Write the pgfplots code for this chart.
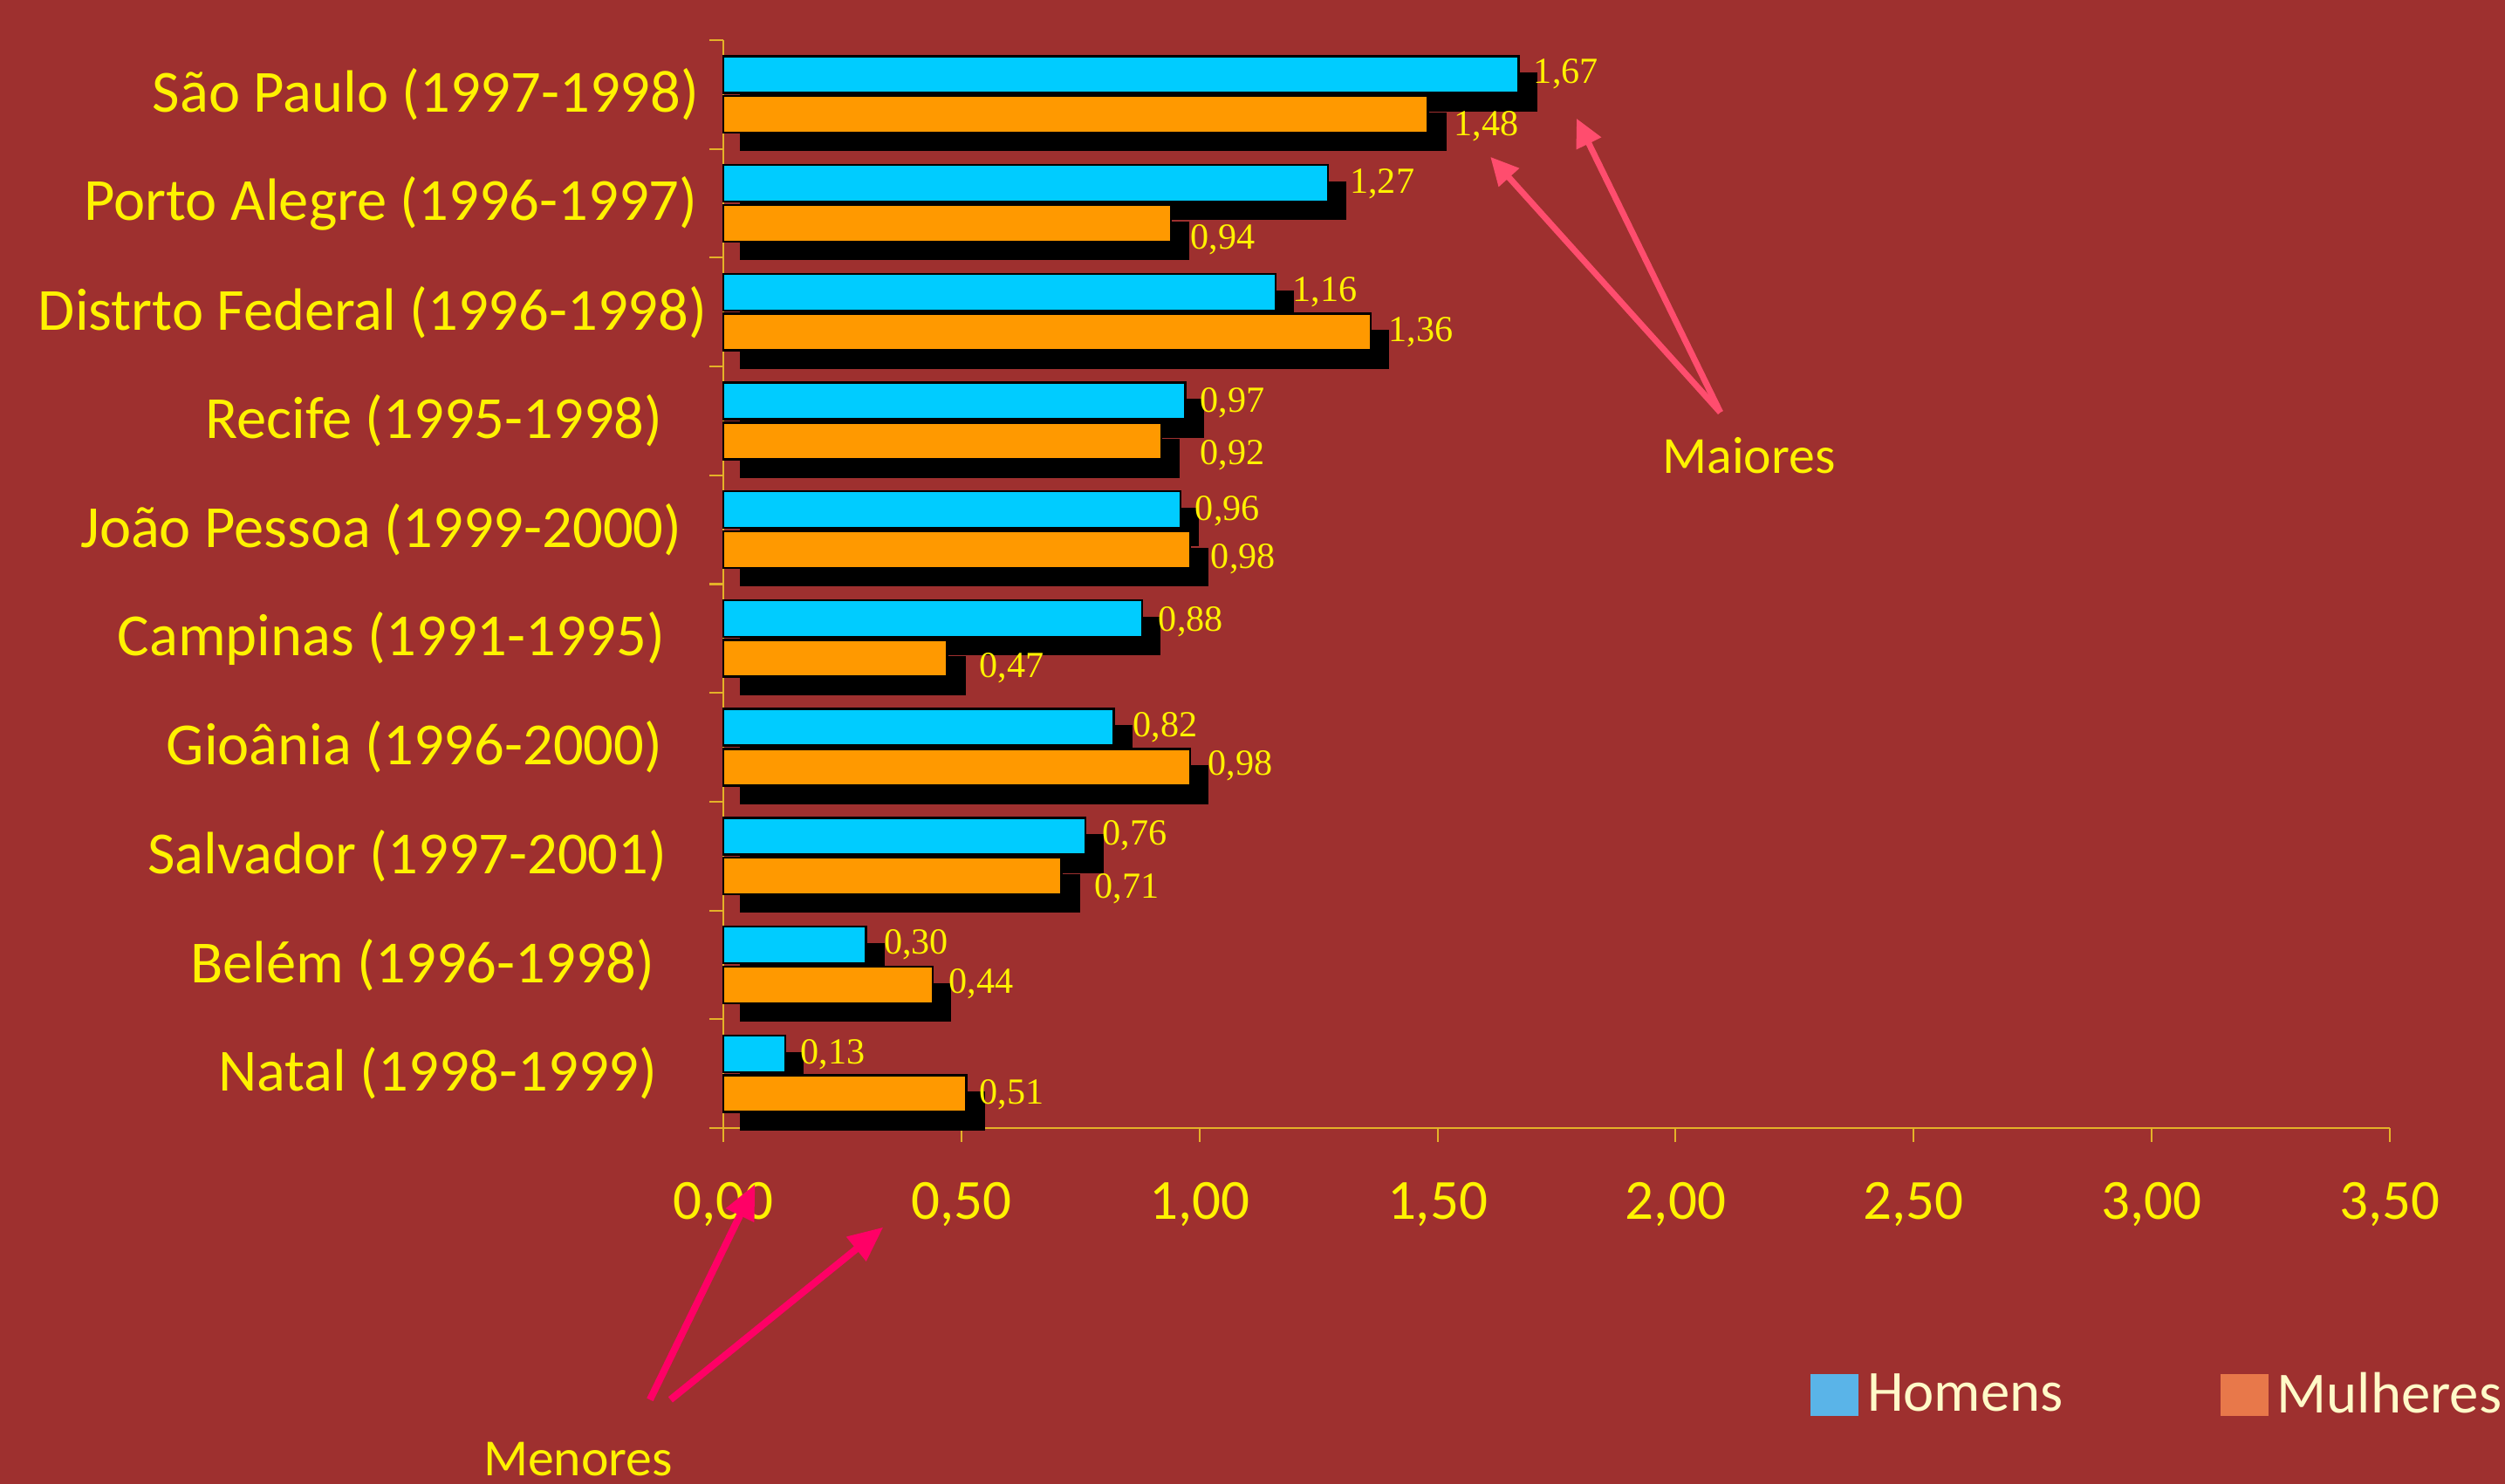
\documentclass[border=0pt]{standalone}
\usepackage{fontspec}
\setmainfont{Carlito}
\newfontfamily\numfont{Liberation Serif}
\usepackage{pgfplots}
\usepackage{pgfplotstable}
\pgfplotsset{compat=1.18}
\usetikzlibrary{arrows.meta}
\definecolor{bg}{RGB}{158,48,47}
\definecolor{barblue}{RGB}{0,204,255}
\definecolor{barorange}{RGB}{255,153,0}
\definecolor{legblue}{RGB}{90,180,232}
\definecolor{legorange}{RGB}{232,120,74}
\definecolor{cream}{RGB}{255,250,200}
\definecolor{axisc}{RGB}{228,178,40}
\definecolor{arrA}{RGB}{255,77,110}
\definecolor{arrB}{RGB}{255,0,102}

\pgfplotstableread{
x y
1.67 9
1.27 8
1.16 7
0.97 6
0.96 5
0.88 4
0.82 3
0.76 2
0.30 1
0.13 0
}\homens

\pgfplotstableread{
x y
1.48 9
0.94 8
1.36 7
0.92 6
0.98 5
0.47 4
0.98 3
0.71 2
0.44 1
0.51 0
}\mulheres

\pgfplotstableread{
x y label
1.701 9.192 1,67
1.315 8.178 1,27
1.195 7.180 1,16
1.000 6.167 0,97
0.990 5.168 0,96
0.913 4.155 0,88
0.859 3.186 0,82
0.795 2.187 0,76
0.336 1.189 0,30
0.161 0.175 0,13
1.534 8.707 1,48
0.980 7.664 0,94
1.396 6.813 1,36
1.000 5.682 0,92
1.023 4.728 0,98
0.537 3.729 0,47
1.017 2.833 0,98
0.779 1.703 0,71
0.473 0.822 0,44
0.537 -0.192 0,51
}\labels

\begin{document}
\begin{tikzpicture}
\clip (-8.29,-4.08) rectangle (20.42,12.93);
\fill[bg] (-8.29,-4.08) rectangle (20.42,12.93);
\begin{axis}[
  at={(0,0)}, anchor=south west,
  scale only axis, width=19.10cm, height=12.47cm,
  xmin=0, xmax=3.5, ymin=-0.5, ymax=9.5,
  clip=false,
  axis lines*=left,
  axis line style={draw=axisc, line width=0.6pt},
  tick style={draw=axisc, line width=0.6pt},
  major tick length=0.16cm,
  tick align=outside,
  xtick={0,0.5,1,1.5,2,2.5,3,3.5},
  xticklabels={{0,00},{0,50},{1,00},{1,50},{2,00},{2,50},{3,00},{3,50}},
  xticklabel style={font=\fontsize{18.5}{22}\selectfont, text=yellow, inner sep=0pt, anchor=north, yshift=-0.46cm},
  ytick={-0.5,0.5,1.5,2.5,3.5,4.5,5.5,6.5,7.5,8.5,9.5},
  yticklabels={},
  extra y ticks={0,1,2,3,4,5,6,7,8,9},
  extra y tick labels={
    {Natal (1998-1999)\rule{0.57cm}{0pt}},
    {Belém (1996-1998)\rule{0.60cm}{0pt}},
    {Salvador (1997-2001)\rule{0.46cm}{0pt}},
    {Gioânia (1996-2000)\rule{0.51cm}{0pt}},
    {Campinas (1991-1995)\rule{0.48cm}{0pt}},
    {João Pessoa (1999-2000)\rule{0.29cm}{0pt}},
    {Recife (1995-1998)\rule{0.51cm}{0pt}},
    {Distrto Federal (1996-1998)},
    {Porto Alegre (1996-1997)\rule{0.11cm}{0pt}},
    {São Paulo (1997-1998)\rule{0.09cm}{0pt}}},
  extra y tick style={major tick length=0pt},
  yticklabel style={font=\fontsize{19.5}{23}\selectfont, text=yellow, inner sep=0pt, anchor=east, xshift=-0.18cm},
  legend columns=2,
  legend cell align=left,
  legend style={draw=none, fill=none, at={(0.652,-0.245)}, anchor=west,
    font=\fontsize{19}{23}\selectfont, text=cream, inner sep=0pt,
    nodes={inner sep=0.1cm},
    /tikz/every even column/.append style={column sep=1.7cm}},
  legend image code/.code={\fill[#1] (0cm,-0.24cm) rectangle (0.55cm,0.24cm);},
]
% shadows
\addplot[xbar, bar width=0.42cm, bar shift=0.229cm, fill=black, draw=black, line width=0.7pt, xshift=0.2cm, yshift=-0.2cm, forget plot] table[x=x,y=y] {\homens};
\addplot[xbar, bar width=0.42cm, bar shift=-0.229cm, fill=black, draw=black, line width=0.7pt, xshift=0.2cm, yshift=-0.2cm, forget plot] table[x=x,y=y] {\mulheres};
% bars
\addplot[xbar, bar width=0.42cm, bar shift=0.229cm, fill=barblue, draw=black, line width=0.7pt, forget plot] table[x=x,y=y] {\homens};
\addplot[xbar, bar width=0.42cm, bar shift=-0.229cm, fill=barorange, draw=black, line width=0.7pt, forget plot] table[x=x,y=y] {\mulheres};
% value labels
\addplot[draw=none, mark=none, forget plot,
  nodes near coords, point meta=explicit symbolic,
  nodes near coords style={anchor=west, inner sep=0pt, font=\numfont\fontsize{12}{14}\selectfont, text=yellow}]
  table[x=x, y=y, meta=label] {\labels};
% annotations
\draw[line width=2pt, arrA, -{Triangle[length=0.32cm, width=0.3cm]}] (2.094,6.078) -- (1.611,8.427);
\draw[line width=2pt, arrA, -{Triangle[length=0.32cm, width=0.3cm]}] (2.094,6.078) -- (1.792,8.780);
\node[text=yellow, font=\fontsize{17}{20}\selectfont, inner sep=0pt] at (2.154,5.682) {Maiores};
\draw[line width=2.3pt, arrB, -{Triangle[length=0.4cm, width=0.34cm]}] (-0.154,-2.997) -- (0.067,-1.015);
\draw[line width=2.3pt, arrB, -{Triangle[length=0.4cm, width=0.34cm]}] (-0.111,-2.997) -- (0.336,-1.411);
\node[text=yellow, font=\fontsize{17}{20}\selectfont, inner sep=0pt] at (-0.305,-3.54) {Menores};
\addlegendimage{fill=legblue, draw=none}
\addlegendentry{Homens}
\addlegendimage{fill=legorange, draw=none}
\addlegendentry{Mulheres}
\end{axis}
\end{tikzpicture}
\end{document}
